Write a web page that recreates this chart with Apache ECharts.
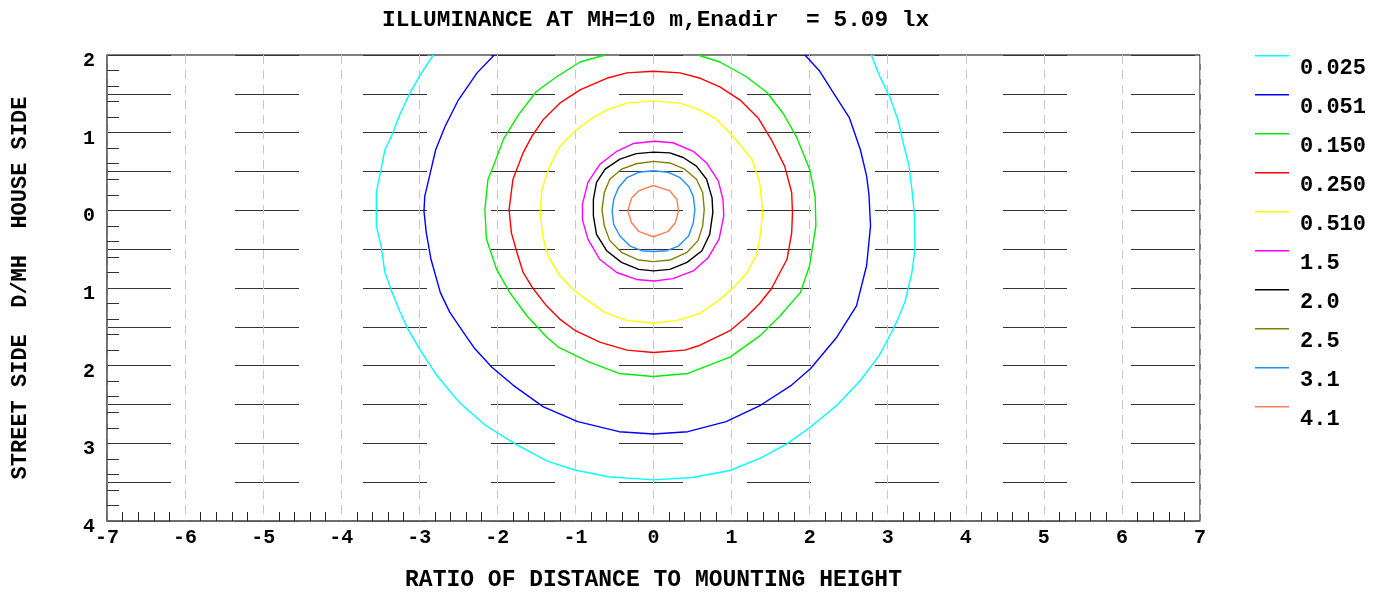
<!DOCTYPE html>
<html>
<head>
<meta charset="utf-8">
<script src="https://cdn.jsdelivr.net/npm/echarts@6/dist/echarts.min.js"></script>
<style>
html,body{margin:0;padding:0;background:#fff;}
#chart{width:1384px;height:597px;}
</style>
</head>
<body>
<div id="chart"></div>
<script>
// ---- Data ----
const titleText = 'ILLUMINANCE AT MH=10 m,Enadir  = 5.09 lx';
const xName = 'RATIO OF DISTANCE TO MOUNTING HEIGHT';
const yName = 'STREET SIDE  D/MH  HOUSE SIDE';
const levels = ['0.025', '0.051', '0.150', '0.250', '0.510', '1.5', '2.0', '2.5', '3.1', '4.1'];

const c0025 = [[-2.82,2.0],[-2.99,1.74],[-3.12,1.51],[-3.25,1.23],[-3.35,0.97],[-3.44,0.78],[-3.50,0.48],[-3.55,0.23],[-3.55,-0.03],[-3.55,-0.2],[-3.49,-0.46],[-3.44,-0.80],[-3.35,-1.05],[-3.25,-1.30],[-3.15,-1.52],[-3.00,-1.78],[-2.78,-2.12],[-2.49,-2.47],[-2.15,-2.77],[-1.75,-3.02],[-1.36,-3.23],[-1.02,-3.34],[-0.58,-3.43],[0.0,-3.47],[0.5,-3.44],[0.98,-3.35],[1.37,-3.19],[1.72,-3.00],[2.01,-2.79],[2.35,-2.51],[2.65,-2.19],[2.89,-1.87],[3.05,-1.57],[3.13,-1.40],[3.22,-1.18],[3.31,-0.8],[3.35,-0.5],[3.34,-0.03],[3.31,0.27],[3.27,0.59],[3.21,0.82],[3.13,1.17],[3.03,1.45],[2.90,1.72],[2.79,2.0]];
const c0051 = [[-2.04,2.0],[-2.26,1.77],[-2.50,1.42],[-2.67,1.08],[-2.79,0.78],[-2.86,0.48],[-2.93,0.18],[-2.94,-0.01],[-2.91,-0.29],[-2.85,-0.63],[-2.73,-1.06],[-2.61,-1.31],[-2.45,-1.55],[-2.29,-1.78],[-2.07,-2.02],[-1.80,-2.25],[-1.41,-2.53],[-0.97,-2.72],[-0.44,-2.85],[0.0,-2.88],[0.44,-2.85],[0.93,-2.72],[1.37,-2.51],[1.77,-2.25],[2.01,-2.04],[2.35,-1.63],[2.60,-1.23],[2.73,-0.71],[2.78,-0.2],[2.76,0.2],[2.73,0.44],[2.65,0.78],[2.51,1.19],[2.28,1.55],[2.13,1.79],[1.94,2.0]];
const c0150 = [[-0.62,2.0],[-0.94,1.91],[-1.24,1.72],[-1.50,1.53],[-1.73,1.23],[-1.92,0.92],[-2.05,0.57],[-2.12,0.40],[-2.16,0.01],[-2.14,-0.37],[-2.01,-0.76],[-1.84,-1.06],[-1.62,-1.36],[-1.37,-1.63],[-1.22,-1.76],[-0.83,-1.95],[-0.44,-2.10],[0,-2.14],[0.44,-2.10],[0.98,-1.89],[1.37,-1.61],[1.62,-1.36],[1.88,-1.06],[2.0,-0.71],[2.08,-0.2],[2.07,0.18],[2.0,0.53],[1.83,0.95],[1.66,1.25],[1.45,1.52],[1.19,1.72],[0.85,1.91],[0.57,2.0]];
const c0250 = [[0,1.79],[-0.34,1.77],[-0.60,1.70],[-0.94,1.55],[-1.20,1.38],[-1.41,1.17],[-1.56,0.95],[-1.67,0.74],[-1.80,0.40],[-1.85,0.01],[-1.82,-0.29],[-1.75,-0.54],[-1.67,-0.80],[-1.54,-1.01],[-1.37,-1.23],[-1.20,-1.40],[-1.0,-1.55],[-0.68,-1.70],[-0.34,-1.80],[0,-1.83],[0.40,-1.80],[0.59,-1.74],[0.98,-1.55],[1.18,-1.38],[1.36,-1.20],[1.51,-1.01],[1.71,-0.63],[1.77,-0.29],[1.78,-0.03],[1.77,0.23],[1.68,0.57],[1.52,0.89],[1.34,1.19],[1.11,1.42],[0.85,1.59],[0.60,1.70],[0.34,1.77],[0,1.79]];
const c0510 = [[0,1.41],[-0.34,1.38],[-0.60,1.29],[-0.81,1.17],[-1.01,1.02],[-1.20,0.82],[-1.33,0.57],[-1.43,0.27],[-1.45,-0.01],[-1.42,-0.33],[-1.35,-0.59],[-1.20,-0.84],[-1.03,-1.02],[-0.87,-1.14],[-0.63,-1.31],[-0.34,-1.42],[0,-1.45],[0.30,-1.42],[0.59,-1.33],[0.86,-1.14],[1.05,-0.97],[1.20,-0.80],[1.32,-0.57],[1.36,-0.37],[1.40,-0.03],[1.36,0.36],[1.26,0.66],[1.02,0.95],[0.81,1.17],[0.60,1.29],[0.34,1.38],[0,1.41]];
const c15 = [[0.01,0.89],[-0.26,0.86],[-0.47,0.76],[-0.69,0.59],[-0.84,0.36],[-0.91,0.08],[-0.91,-0.12],[-0.84,-0.37],[-0.69,-0.63],[-0.47,-0.80],[-0.22,-0.89],[0.01,-0.91],[0.25,-0.88],[0.51,-0.78],[0.70,-0.61],[0.84,-0.37],[0.90,-0.07],[0.89,0.14],[0.83,0.38],[0.68,0.61],[0.51,0.76],[0.25,0.87],[0.01,0.89]];
const c20 = [[0,0.75],[-0.22,0.73],[-0.43,0.66],[-0.62,0.53],[-0.73,0.36],[-0.77,0.14],[-0.77,-0.07],[-0.73,-0.31],[-0.60,-0.52],[-0.41,-0.67],[-0.19,-0.76],[0,-0.78],[0.21,-0.76],[0.43,-0.67],[0.62,-0.52],[0.72,-0.31],[0.76,-0.03],[0.75,0.16],[0.68,0.40],[0.55,0.57],[0.38,0.68],[0.21,0.74],[0,0.75]];
const c25 = [[0,0.63],[-0.22,0.60],[-0.41,0.53],[-0.56,0.40],[-0.63,0.23],[-0.66,0.01],[-0.63,-0.20],[-0.56,-0.39],[-0.41,-0.54],[-0.19,-0.64],[0,-0.66],[0.21,-0.64],[0.43,-0.54],[0.57,-0.39],[0.63,-0.20],[0.65,0.01],[0.63,0.23],[0.55,0.40],[0.40,0.53],[0.21,0.61],[0,0.63]];
const c31 = [[0,0.51],[-0.19,0.49],[-0.34,0.42],[-0.45,0.29],[-0.51,0.14],[-0.53,-0.01],[-0.51,-0.18],[-0.43,-0.33],[-0.30,-0.46],[-0.15,-0.52],[0,-0.53],[0.17,-0.52],[0.32,-0.46],[0.45,-0.33],[0.51,-0.16],[0.53,0.01],[0.51,0.18],[0.45,0.31],[0.34,0.42],[0.19,0.49],[0,0.51]];
const c41 = [[0,0.32],[0.21,0.25],[0.30,0.14],[0.32,-0.01],[0.28,-0.16],[0.19,-0.27],[0,-0.34],[-0.19,-0.27],[-0.28,-0.16],[-0.33,-0.01],[-0.28,0.16],[-0.19,0.25],[0,0.32]];

const contours = [c0025, c0051, c0150, c0250, c0510, c15, c20, c25, c31, c41];
const lineColors = ['#00FFFF', '#0000FF', '#00EE00', '#FF0000', '#FFFF00', '#FF00FF', '#000000', '#808000', '#1E90FF', '#FF7F50'];

// ---- Chart ----
const FONT = '"Liberation Mono", "Courier New", monospace';
const chart = echarts.init(document.getElementById('chart'), null, {renderer: 'canvas'});

const series = levels.map((name, i) => ({
  name: name,
  type: 'line',
  data: contours[i],
  xAxisIndex: 0,
  yAxisIndex: 0,
  showSymbol: false,
  symbol: 'none',
  silent: true,
  color: lineColors[i],
  lineStyle: {color: lineColors[i], width: 1.4},
  z: 5
}));

chart.setOption({
  animation: false,
  backgroundColor: '#fff',
  title: {
    text: titleText,
    left: 377,
    top: 4,
    textStyle: {fontFamily: FONT, fontWeight: 'bold', fontSize: 22.8, color: '#000'}
  },
  legend: {
    orient: 'vertical',
    left: 1255,
    top: 55,
    padding: 0,
    itemWidth: 34,
    itemHeight: 26,
    itemGap: 13,
    icon: 'path://M0,0H34V1.5H0Z M33.95,25.95L34,26L33.95,26Z',
    itemStyle: {borderWidth: 0},
    data: levels,
    selectedMode: false,
    textStyle: {fontFamily: FONT, fontWeight: 'bold', fontSize: 22, color: '#000', padding: [0, 0, 0, 6]}
  },
  grid: {
    left: 107, right: 184, top: 55, bottom: 74,
    show: true, borderColor: '#000', borderWidth: 1, backgroundColor: 'transparent'
  },
  xAxis: [{
    type: 'value',
    min: -7, max: 7, interval: 1,
    name: xName,
    nameLocation: 'middle',
    nameGap: 48,
    nameTextStyle: {fontFamily: FONT, fontWeight: 'bold', fontSize: 23, color: '#000'},
    axisLine: {show: true, onZero: false, lineStyle: {color: '#666', width: 1.5}},
    axisTick: {show: false, inside: true},
    minorTick: {show: true, splitNumber: 5, length: 9, lineStyle: {color: '#222', width: 1}},
    axisLabel: {fontFamily: FONT, fontWeight: 'bold', fontSize: 20, color: '#000', margin: 7},
    splitLine: {show: true, lineStyle: {color: '#c8c8c8', width: 1, type: [9, 6]}}
  }],
  yAxis: [{
    type: 'value',
    min: -4, max: 2, interval: 1,
    name: yName,
    nameLocation: 'middle',
    nameRotate: 90,
    nameGap: 76,
    nameTextStyle: {fontFamily: FONT, fontWeight: 'bold', fontSize: 22, color: '#000'},
    axisLine: {show: true, onZero: false, lineStyle: {color: '#666', width: 1.5}},
    axisTick: {show: false, inside: true},
    minorTick: {show: true, splitNumber: 5, length: 12, lineStyle: {color: '#333', width: 1}},
    axisLabel: {
      fontFamily: FONT, fontWeight: 'bold', fontSize: 20, color: '#000', margin: 12,
      verticalAlign: 'top', lineHeight: 12,
      formatter: v => String(Math.abs(v))
    },
    splitLine: {show: false}
  }, {
    type: 'value',
    min: -4, max: 2, interval: 0.5,
    position: 'left',
    axisLine: {show: false},
    axisTick: {show: false},
    axisLabel: {show: false},
    splitLine: {show: true, lineStyle: {color: '#333', width: 1, type: [64, 64]}}
  }],
  series: series
});
</script>
</body>
</html>
